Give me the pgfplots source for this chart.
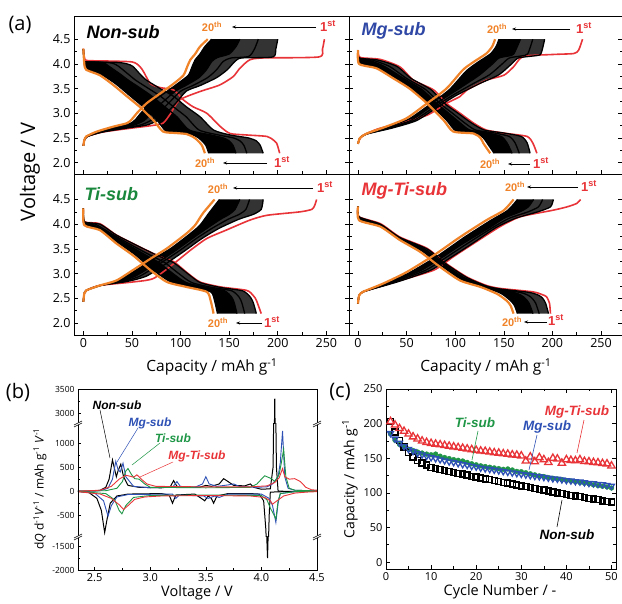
\documentclass[border=0pt]{standalone}
\usepackage{fontspec}
\setmainfont{Open Sans}
\newfontfamily\lab{Liberation Sans}
\usepackage{pgfplots}
\pgfplotsset{compat=1.18}
\usepackage{pgfplotstable}
\usepgfplotslibrary{fillbetween}
\usetikzlibrary{arrows.meta}
\definecolor{myred}{RGB}{232,52,56}
\definecolor{myorange}{RGB}{240,130,40}
\definecolor{myblue}{RGB}{48,72,165}
\definecolor{mygreen}{RGB}{25,135,60}
\definecolor{bblue}{RGB}{45,80,180}
\definecolor{bgreen}{RGB}{30,150,70}
\newcommand{\fs}[1]{\fontsize{#1}{#1}\selectfont}

\pgfplotsset{
 every axis/.append style={/pgf/number format/assume math mode=true},
 apan/.style={set layers, scale only axis, clip=true, xtick={0,50,...,250}, minor x tick num=1,
   ytick={2,2.5,...,4.5}, minor y tick num=1, xtick pos=bottom, tick align=inside,
   major tick length=4pt, minor tick length=2.5pt, tick style={black,line width=0.6pt},
   axis line style={line width=0.8pt}, ticklabel style={font=\fs{12.5}},
   yticklabel style={/pgf/number format/fixed, /pgf/number format/fixed zerofill, /pgf/number format/precision=1}},
 c1/.style={draw=myred, line width=1.6pt, smooth, tension=0.4},
 cb/.style={draw=black, line width=1.3pt, smooth, tension=0.4},
 c20/.style={draw=myorange, line width=2.2pt, smooth, tension=0.4},
 fan/.style={fill=black!80, draw=none},
 core/.style={fill=black, draw=none},
 bpan/.style={scale only axis, clip=true, width=239pt, xmin=2.35, xmax=4.5,
   axis line style={draw=none}, ytick pos=left, tick align=inside,
   major tick length=3pt, minor tick length=2pt, minor y tick num=1,
   tick style={black,line width=0.5pt},
   yticklabel style={font=\fs{8.5}, /pgf/number format/set thousands separator={}}},
 bk/.style={draw=black, line width=1pt},
 bb/.style={draw=bblue, line width=0.9pt},
 bg/.style={draw=bgreen, line width=0.9pt},
 br/.style={draw=myred, line width=0.9pt},
}

% ---------- panel (b) data ----------
\pgfplotstableread[row sep=\\]{x y\\
2.35 0\\ 2.5 5\\ 2.55 20\\ 2.6 80\\ 2.63 250\\ 2.66 650\\ 2.68 450\\ 2.695 300\\ 2.71 420\\ 2.735 560\\ 2.76 300\\ 2.8 120\\ 2.9 80\\ 3.1 70\\ 3.18 90\\ 3.21 220\\ 3.24 100\\ 3.3 80\\ 3.45 85\\ 3.5 120\\ 3.55 100\\ 3.62 150\\ 3.66 260\\ 3.7 200\\ 3.75 120\\ 3.85 110\\ 3.9 150\\ 3.93 80\\ 4.0 40\\ 4.08 50\\ 4.105 500\\ 4.12 3300\\ 4.135 500\\ 4.15 0\\ 4.3 -5\\ 4.5 0\\
}\bKc
\pgfplotstableread[row sep=\\]{x y\\
2.35 -5\\ 2.45 -30\\ 2.52 -150\\ 2.56 -400\\ 2.59 -860\\ 2.61 -600\\ 2.64 -250\\ 2.7 -100\\ 2.8 -60\\ 3.1 -50\\ 3.17 -80\\ 3.2 -250\\ 3.23 -80\\ 3.4 -60\\ 3.46 -150\\ 3.49 -200\\ 3.52 -100\\ 3.55 -150\\ 3.57 -250\\ 3.6 -100\\ 3.7 -50\\ 3.9 -50\\ 3.98 -60\\ 4.02 -200\\ 4.04 -800\\ 4.055 -1750\\ 4.07 -500\\ 4.08 -20\\ 4.2 -10\\ 4.5 -5\\
}\bKd
\pgfplotstableread[row sep=\\]{x y\\
2.35 0\\ 2.55 10\\ 2.62 60\\ 2.66 250\\ 2.69 620\\ 2.71 450\\ 2.73 400\\ 2.755 580\\ 2.78 300\\ 2.85 100\\ 3.0 70\\ 3.2 80\\ 3.24 200\\ 3.27 100\\ 3.4 80\\ 3.47 150\\ 3.5 300\\ 3.53 150\\ 3.6 100\\ 3.7 130\\ 3.75 150\\ 3.8 100\\ 3.95 80\\ 4.05 90\\ 4.1 150\\ 4.15 300\\ 4.17 600\\ 4.19 1250\\ 4.21 300\\ 4.24 60\\ 4.3 20\\ 4.5 5\\
}\bBc
\pgfplotstableread[row sep=\\]{x y\\
2.35 -5\\ 2.5 -40\\ 2.58 -200\\ 2.62 -520\\ 2.65 -300\\ 2.7 -120\\ 2.8 -70\\ 3.2 -60\\ 3.23 -150\\ 3.26 -80\\ 3.48 -100\\ 3.52 -150\\ 3.58 -100\\ 3.62 -130\\ 3.7 -60\\ 4.0 -60\\ 4.07 -150\\ 4.1 -300\\ 4.13 -650\\ 4.15 -250\\ 4.17 -50\\ 4.3 -10\\ 4.5 -5\\
}\bBd
\pgfplotstableread[row sep=\\]{x y\\
2.35 0\\ 2.6 10\\ 2.7 60\\ 2.75 200\\ 2.78 420\\ 2.8 470\\ 2.83 350\\ 2.86 260\\ 2.9 250\\ 2.95 150\\ 3.0 80\\ 3.5 70\\ 3.9 80\\ 3.96 150\\ 4.0 250\\ 4.03 320\\ 4.06 290\\ 4.09 260\\ 4.12 200\\ 4.16 350\\ 4.18 600\\ 4.2 870\\ 4.22 300\\ 4.25 60\\ 4.3 20\\ 4.5 5\\
}\bGc
\pgfplotstableread[row sep=\\]{x y\\
2.35 -5\\ 2.6 -50\\ 2.68 -180\\ 2.72 -400\\ 2.745 -470\\ 2.78 -300\\ 2.85 -130\\ 3.0 -90\\ 3.5 -80\\ 4.0 -90\\ 4.05 -180\\ 4.08 -350\\ 4.11 -480\\ 4.13 -580\\ 4.15 -200\\ 4.17 -50\\ 4.3 -10\\ 4.5 -5\\
}\bGd
\pgfplotstableread[row sep=\\]{x y\\
2.35 0\\ 2.55 20\\ 2.65 100\\ 2.72 250\\ 2.78 330\\ 2.82 310\\ 2.85 290\\ 2.88 340\\ 2.92 250\\ 2.97 150\\ 3.05 100\\ 3.5 90\\ 3.9 90\\ 4.05 110\\ 4.12 180\\ 4.16 280\\ 4.19 470\\ 4.21 300\\ 4.25 250\\ 4.3 260\\ 4.35 200\\ 4.4 80\\ 4.45 30\\ 4.5 20\\
}\bRc
\pgfplotstableread[row sep=\\]{x y\\
2.35 -10\\ 2.55 -60\\ 2.65 -150\\ 2.72 -280\\ 2.76 -380\\ 2.8 -300\\ 2.86 -170\\ 2.95 -120\\ 3.1 -100\\ 3.5 -90\\ 3.9 -100\\ 4.03 -130\\ 4.08 -200\\ 4.1 -270\\ 4.14 -200\\ 4.2 -100\\ 4.3 -40\\ 4.4 -20\\ 4.5 -10\\
}\bRd

% ---------- panel (c) data ----------
\pgfplotstableread[row sep=\\]{c k b g r\\
1 203 186 185 203\\ 2 188 178 176 198\\ 3 176 172 170 193\\ 4 166 167 166 189\\ 5 158 163 163 185\\
6 152 160 161 181\\ 7 147 157 159 178\\ 8 143 155 157.5 175\\ 9 140 153 156 173\\ 10 137 151 155 171.5\\
11 135.5 149.5 156 170.5\\ 12 134 148 153 169.5\\ 13 132.5 146.5 151 168.5\\ 14 131 145 149.5 167.5\\ 15 129.5 144 148 166.5\\
16 128 142.5 147 165.5\\ 17 127 141 146 164.5\\ 18 125.5 140 144 163.5\\ 19 124 138.5 142 162.5\\ 20 123 137.5 140.5 161.5\\
21 121.5 136 139 160.5\\ 22 120 135 138 160\\ 23 119 134 137 159\\ 24 117.5 133 136 158\\ 25 116.5 132 135 157.5\\
26 115 131 134 156.5\\ 27 114 130 134.5 156\\ 28 112.5 129 133 155\\ 29 111.5 128 131 154.5\\ 30 110 127 130.5 153.5\\
31 109 126 129 146\\ 32 107.5 125 127.5 152\\ 33 106.5 124 126 145\\ 34 105 123.5 124.5 151\\ 35 104 122.5 123.5 148\\
36 102.5 121.5 122 144\\ 37 101.5 120.5 121 150\\ 38 100 120 120 149\\ 39 99 119 119 143\\ 40 97.5 118 118 148\\
41 96.5 117.5 117 147\\ 42 95.5 116.5 116 146.5\\ 43 94.5 116 115 148\\ 44 93 115 114 145.5\\ 45 92 114 113 145\\
46 91 113.5 111.5 144\\ 47 90 112.5 110.5 143.5\\ 48 88.5 112 109.5 142.5\\ 49 87.5 111 108.5 142\\ 50 86.5 110 107 139\\
}\ctab

\begin{document}
\begin{tikzpicture}[x=1pt,y=1pt]

% ===== (a) Non-sub =====
\begin{axis}[apan, at={(74pt,430pt)}, anchor=south west, width=275pt, height=158pt,
  xmin=-9.6, xmax=273.3, ymin=1.77, ymax=4.97, xticklabels={}]
\addplot[c1] coordinates {(0,2.34)(1,2.45)(4,2.53)(20,2.62)(50,2.7)(70,2.75)(82,2.8)(90,3.0)(99,3.27)(120,3.44)(140,3.57)(154,3.74)(161,3.91)(171,4.08)(185,4.12)(242,4.14)(246,4.3)(248,4.5)};
\addplot[c1] coordinates {(0,4.31)(1,4.15)(3,4.07)(20,4.06)(50,4.04)(58,3.95)(62,3.84)(69,3.6)(79,3.52)(93,3.47)(103,3.27)(113,3.13)(127,3.0)(141,2.73)(151,2.59)(168,2.56)(189,2.53)(196,2.45)(199,2.39)(202,2.19)};
\addplot[cb, name path=n2] coordinates {(0,2.34)(1,2.45)(4,2.53)(20,2.62)(45,2.7)(65,2.76)(76,2.85)(85,3.0)(95,3.2)(106,3.45)(120,3.56)(137,3.72)(148,3.88)(156,4.05)(163,4.12)(195,4.14)(198,4.3)(200,4.5)};
\addplot[cb] coordinates {(0,2.34)(1,2.45)(4,2.53)(18.5,2.62)(40.6,2.7)(58.3,2.76)(69,2.85)(77.5,3.0)(87.5,3.2)(100.3,3.45)(112.5,3.56)(127.7,3.72)(137,3.88)(143.9,4.05)(152,4.12)(170,4.15)(176,4.3)(180,4.5)};
\addplot[cb, name path=nA] coordinates {(0,2.34)(1,2.45)(4,2.53)(17.2,2.62)(36.5,2.7)(51.9,2.76)(62.3,2.85)(70.2,3.0)(80.2,3.2)(94.9,3.45)(105.2,3.56)(118.8,3.72)(126.6,3.88)(132.2,4.05)(138,4.13)(150,4.2)(157,4.35)(161,4.5)};
\addplot[cb, name path=nB] coordinates {(0,2.34)(1,2.45)(3,2.53)(15,2.62)(33,2.72)(48,2.79)(54,2.88)(59,3.0)(69,3.2)(83,3.4)(97,3.6)(108,3.77)(112,3.95)(115,4.08)(120,4.2)(125,4.35)(132,4.5)};
\addplot[fan] fill between[of=n2 and nA];
\addplot[core] fill between[of=nA and nB];
\addplot[cb, name path=n2d] coordinates {(0,4.3)(1,4.06)(5,4.04)(35,4.03)(45,4.0)(51,3.95)(58,3.8)(65,3.67)(79,3.5)(93,3.34)(106,3.13)(120,2.93)(134,2.66)(151,2.56)(170,2.5)(178,2.44)(182,2.35)(185,2.19)};
\addplot[cb] coordinates {(0,4.3)(1,4.05)(3.8,4.04)(24.8,4.03)(31.8,4.0)(36.3,3.95)(45.7,3.8)(53.8,3.67)(67.2,3.5)(79.7,3.34)(92.7,3.13)(105.7,2.93)(119.1,2.66)(139.2,2.56)(154.5,2.5)(161.2,2.44)(165.2,2.35)(168.2,2.19)};
\addplot[cb, name path=nC] coordinates {(0,4.3)(1,4.04)(3,4.04)(18,4.03)(23,4.0)(26.5,3.95)(37.5,3.8)(46.3,3.67)(59.3,3.5)(70.9,3.34)(83.8,3.13)(96.2,2.93)(109.1,2.66)(131.3,2.56)(144.2,2.5)(150,2.44)(154,2.35)(157,2.19)};
\addplot[cb, name path=nD] coordinates {(0,4.3)(1,4.0)(3,3.9)(18,3.79)(33,3.6)(47,3.37)(61,3.14)(75,2.88)(85,2.64)(98,2.6)(110,2.58)(117,2.52)(121,2.46)(126,2.35)(129,2.19)};
\addplot[fan] fill between[of=n2d and nC];
\addplot[core] fill between[of=nC and nD];
\addplot[c20] coordinates {(0,2.34)(1,2.45)(3,2.53)(14,2.63)(31,2.73)(45,2.8)(50,2.88)(55,3.0)(65,3.2)(79,3.4)(93,3.6)(103,3.77)(107,3.95)(110,4.08)(115,4.2)(120,4.35)(128,4.5)};
\addplot[c20] coordinates {(0,4.31)(1,4.0)(3,3.88)(17,3.77)(31,3.57)(45,3.34)(58,3.13)(72,2.86)(82,2.63)(95,2.6)(106,2.58)(113,2.52)(117,2.46)(122,2.35)(125,2.19)};
\end{axis}

% ===== (a) Mg-sub =====
\begin{axis}[apan, at={(349pt,430pt)}, anchor=south west, width=273pt, height=158pt,
  xmin=-9.3, xmax=271.6, ymin=1.77, ymax=4.97, xticklabels={}, yticklabels={}]
\addplot[c1] coordinates {(0,2.38)(1,2.45)(5,2.55)(20,2.68)(43,2.8)(71,2.96)(91,3.2)(105,3.34)(112,3.47)(132,3.67)(150,3.77)(160,3.94)(170,4.15)(200,4.19)(222,4.21)(227,4.28)(231,4.5)};
\addplot[c1] coordinates {(0,4.28)(1,4.15)(5,4.12)(23,4.09)(43,3.94)(57,3.67)(78,3.47)(91,3.2)(105,3.0)(119,2.8)(132,2.66)(153,2.59)(174,2.53)(180,2.39)(184,2.19)};
\addplot[cb, name path=m2] coordinates {(0,2.38)(2,2.5)(9,2.58)(35,2.7)(60,2.85)(80,3.1)(100,3.35)(125,3.6)(145,3.78)(158,4.0)(165,4.12)(180,4.16)(188,4.2)(192,4.5)};
\addplot[cb] coordinates {(0,2.38)(2,2.5)(8.8,2.58)(32.9,2.7)(57,2.85)(76.4,3.1)(96.2,3.35)(118.5,3.6)(135.3,3.78)(148.4,4.0)(155.7,4.12)(167.8,4.16)(174.5,4.2)(179.8,4.5)};
\addplot[cb, name path=mA] coordinates {(0,2.38)(2,2.5)(8.6,2.58)(29.1,2.7)(53.8,2.85)(72.6,3.1)(92.2,3.35)(111.8,3.6)(125.3,3.78)(138.4,4.0)(145.1,4.12)(154.9,4.16)(160.2,4.2)(167.1,4.5)};
\addplot[cb, name path=mB] coordinates {(0,2.38)(2,2.5)(9,2.59)(30,2.72)(52,2.88)(74,3.18)(94,3.48)(111,3.85)(123,4.03)(136,4.2)(142,4.35)(145,4.5)};
\addplot[fan] fill between[of=m2 and mA];
\addplot[core] fill between[of=mA and mB];
\addplot[cb, name path=m2d] coordinates {(0,4.28)(1,4.12)(20,4.08)(40,3.95)(55,3.7)(75,3.48)(89,3.2)(103,3.0)(117,2.8)(130,2.66)(150,2.6)(168,2.53)(174,2.4)(177,2.19)};
\addplot[cb] coordinates {(0,4.28)(1,4.12)(14.2,4.08)(32.2,3.95)(50.4,3.7)(69.5,3.48)(84.2,3.2)(97.2,3.0)(110,2.8)(121,2.66)(140.3,2.6)(155.6,2.53)(161.6,2.4)(165.9,2.19)};
\addplot[cb, name path=mC] coordinates {(0,4.28)(1,4.1)(10.4,4.08)(27,3.95)(47.4,3.7)(65.9,3.48)(81,3.2)(93.3,3.0)(105.4,2.8)(115,2.66)(133.9,2.6)(147.4,2.53)(153.3,2.4)(158.5,2.19)};
\addplot[cb, name path=mD] coordinates {(0,4.28)(1,4.02)(20,3.92)(38,3.72)(55,3.5)(73,3.2)(91,2.86)(101,2.64)(122,2.59)(129,2.5)(133,2.39)(140,2.19)};
\addplot[fan] fill between[of=m2d and mC];
\addplot[core] fill between[of=mC and mD];
\addplot[c20] coordinates {(0,2.38)(2,2.5)(9,2.59)(29,2.73)(50,2.9)(71,3.2)(91,3.5)(108,3.88)(119,4.04)(132,4.21)(138,4.35)(141,4.5)};
\addplot[c20] coordinates {(0,4.28)(1,4.0)(19,3.91)(36,3.71)(53,3.5)(71,3.2)(88,2.86)(98,2.63)(119,2.59)(126,2.5)(129,2.39)(136,2.19)};
\end{axis}

% ===== (a) Ti-sub =====
\begin{axis}[apan, at={(74pt,269pt)}, anchor=south west, width=275pt, height=161pt,
  xmin=-9.6, xmax=273.3, ymin=1.757, ymax=5.016]
\addplot[c1] coordinates {(0,2.43)(1,2.6)(3,2.66)(17,2.76)(51,2.83)(72,2.9)(93,3.2)(110,3.47)(127,3.71)(147,3.88)(171,4.08)(189,4.18)(223,4.25)(235,4.3)(238,4.38)(240,4.5)};
\addplot[c1] coordinates {(0,4.32)(1,4.05)(17,4.01)(34,3.78)(58,3.54)(79,3.34)(93,3.24)(106,3.03)(120,2.83)(141,2.73)(168,2.66)(175,2.55)(178,2.46)(183,2.19)};
\addplot[cb, name path=t2] coordinates {(0,2.43)(1,2.6)(3,2.66)(17,2.76)(45,2.84)(65,2.95)(85,3.2)(105,3.47)(122,3.71)(140,3.92)(160,4.1)(175,4.2)(183,4.3)(185,4.5)};
\addplot[cb] coordinates {(0,2.43)(1,2.6)(3,2.66)(17.3,2.76)(41.1,2.84)(58.4,2.95)(78.6,3.2)(99.3,3.47)(116.2,3.71)(132.7,3.92)(149,4.1)(160.5,4.2)(167.2,4.3)(171,4.5)};
\addplot[cb, name path=tA] coordinates {(0,2.43)(1,2.6)(3,2.66)(17.5,2.76)(38.3,2.84)(53.7,2.95)(74.5,3.2)(95.2,3.47)(112.1,3.71)(127.5,3.92)(141.2,4.1)(150.2,4.2)(156,4.3)(161,4.5)};
\addplot[cb, name path=tB] coordinates {(0,2.43)(1,2.6)(3,2.66)(18,2.76)(36,2.86)(54,3.07)(72,3.3)(90,3.51)(110,3.81)(120,3.98)(129,4.22)(140,4.5)};
\addplot[fan] fill between[of=t2 and tA];
\addplot[core] fill between[of=tA and tB];
\addplot[cb, name path=t2d] coordinates {(0,4.32)(1,4.05)(17,4.0)(34,3.78)(58,3.54)(79,3.34)(93,3.22)(106,3.02)(120,2.82)(141,2.72)(164,2.65)(172,2.52)(175,2.4)(178,2.19)};
\addplot[cb] coordinates {(0,4.32)(1,4.04)(12.2,4.0)(31.3,3.78)(53,3.54)(72,3.34)(84,3.22)(96.9,3.02)(111.3,2.82)(132.3,2.72)(152.8,2.65)(160.4,2.52)(163.2,2.4)(166,2.19)};
\addplot[cb, name path=tC] coordinates {(0,4.32)(1,4.03)(9,4.0)(29.5,3.78)(49.7,3.54)(67.4,3.34)(78,3.22)(90.9,3.02)(105.6,2.82)(126.6,2.72)(145.4,2.65)(152.7,2.52)(155.4,2.4)(158,2.19)};
\addplot[cb, name path=tD] coordinates {(0,4.32)(1,3.99)(18,3.89)(36,3.62)(54,3.37)(72,3.07)(90,2.83)(110,2.73)(131,2.63)(135,2.45)(138,2.19)};
\addplot[fan] fill between[of=t2d and tC];
\addplot[core] fill between[of=tC and tD];
\addplot[c20] coordinates {(0,2.43)(1,2.6)(3,2.66)(17,2.76)(34,2.86)(51,3.07)(69,3.3)(86,3.51)(106,3.81)(115,3.98)(123,4.22)(135,4.5)};
\addplot[c20] coordinates {(0,4.32)(1,3.98)(17,3.88)(34,3.61)(51,3.37)(69,3.07)(86,2.83)(106,2.73)(127,2.63)(131,2.45)(134,2.19)};
\end{axis}

% ===== (a) Mg-Ti-sub =====
\begin{axis}[apan, at={(349pt,269pt)}, anchor=south west, width=273pt, height=161pt,
  xmin=-9.3, xmax=271.6, ymin=1.757, ymax=5.016, yticklabels={}]
\addplot[c1] coordinates {(0,2.39)(1,2.55)(5,2.63)(26,2.76)(43,2.86)(78,3.07)(98,3.34)(119,3.61)(146,3.95)(167,4.15)(200,4.28)(215,4.35)(225,4.42)(229,4.5)};
\addplot[c1] coordinates {(0,4.36)(1,4.15)(23,4.01)(43,3.74)(71,3.51)(91,3.2)(112,2.93)(132,2.76)(146,2.7)(180,2.63)(190,2.57)(194,2.53)(197,2.4)(198,2.19)};
\addplot[cb, name path=x2] coordinates {(0,2.39)(1,2.55)(5,2.63)(28,2.76)(45,2.86)(75,3.07)(95,3.32)(117,3.6)(142,3.93)(162,4.12)(185,4.25)(198,4.35)(201,4.5)};
\addplot[cb] coordinates {(0,2.39)(1,2.55)(5,2.63)(26.5,2.76)(41.9,2.86)(69.7,3.07)(90.1,3.32)(111.8,3.6)(138.4,3.93)(155.6,4.12)(175,4.25)(185.6,4.35)(189.9,4.5)};
\addplot[cb, name path=xA] coordinates {(0,2.39)(1,2.55)(5,2.63)(25.4,2.76)(39.4,2.86)(65.3,3.07)(86,3.32)(107.4,3.6)(135.3,3.93)(150.2,4.12)(166.5,4.25)(175.2,4.35)(180.6,4.5)};
\addplot[cb, name path=xB] coordinates {(0,2.39)(1,2.55)(5,2.63)(27,2.79)(53,3.02)(82,3.36)(109,3.73)(136,4.07)(154,4.28)(164,4.5)};
\addplot[fan] fill between[of=x2 and xA];
\addplot[core] fill between[of=xA and xB];
\addplot[cb, name path=x2d] coordinates {(0,4.36)(1,4.15)(23,4.0)(43,3.73)(71,3.5)(91,3.19)(112,2.92)(132,2.75)(146,2.69)(176,2.62)(186,2.56)(190,2.5)(193,2.4)(196,2.19)};
\addplot[cb] coordinates {(0,4.36)(1,4.13)(20.7,4.0)(42.4,3.73)(68.2,3.5)(88.8,3.19)(109,2.92)(130.2,2.75)(142.6,2.69)(166.5,2.62)(175.1,2.56)(179.1,2.5)(182.8,2.4)(186.4,2.19)};
\addplot[cb, name path=xC] coordinates {(0,4.36)(1,4.12)(19.1,4.0)(42,3.73)(66.3,3.5)(87.4,3.19)(107,2.92)(129,2.75)(140.3,2.69)(160.1,2.62)(167.9,2.56)(171.9,2.5)(176,2.4)(180,2.19)};
\addplot[cb, name path=xD] coordinates {(0,4.36)(1,4.08)(24,3.95)(45,3.68)(67,3.44)(87,3.14)(108,2.86)(129,2.73)(147,2.6)(157,2.45)(161,2.35)(164,2.19)};
\addplot[fan] fill between[of=x2d and xC];
\addplot[core] fill between[of=xC and xD];
\addplot[c20] coordinates {(0,2.39)(1,2.55)(5,2.63)(26,2.8)(50,3.03)(78,3.37)(105,3.74)(132,4.08)(150,4.28)(160,4.5)};
\addplot[c20] coordinates {(0,4.36)(1,4.08)(23,3.95)(43,3.68)(64,3.44)(84,3.14)(105,2.86)(126,2.73)(143,2.59)(153,2.45)(157,2.35)(160,2.19)};
\end{axis}

% (a) annotations
\node[font=\fs{20}] at (20,579) {(a)};
\node[rotate=90, font=\fs{20}] at (30,432) {Voltage / V};
\node[font=\fs{15.5}] at (212,237) {Capacity / mAh g\textsuperscript{-1}};
\node[font=\fs{15.5}] at (486,237) {Capacity / mAh g\textsuperscript{-1}};
\node[anchor=west, font=\lab\bfseries\itshape\fs{18}] at (83,572) {Non-sub};
\node[anchor=west, text=myblue, font=\lab\bfseries\itshape\fs{18}] at (358,573) {Mg-sub};
\node[anchor=west, text=mygreen, font=\lab\bfseries\itshape\fs{18}] at (81,410) {Ti-sub};
\node[anchor=west, text=myred, font=\lab\bfseries\itshape\fs{18}] at (358,413) {Mg-Ti-sub};
\tikzset{ann/.style={-{Stealth[length=4pt,width=3pt]}, line width=0.6pt},
  tw/.style={text=myorange, font=\lab\bfseries\fs{11}},
  ts/.style={text=myred, font=\lab\bfseries\fs{13}}}
% Non-sub
\node[tw] at (212,577) {20\textsuperscript{th}}; \draw[ann] (316,577) -- (232,577); \node[ts] at (328,578) {1\textsuperscript{st}};
\node[tw] at (205,441) {20\textsuperscript{th}}; \draw[ann] (267,441) -- (223,441); \node[ts] at (282,442) {1\textsuperscript{st}};
% Mg-sub
\node[tw] at (497,575) {20\textsuperscript{th}}; \draw[ann] (570,575) -- (512,575); \node[ts] at (584,576) {1\textsuperscript{st}};
\node[tw] at (490,440) {20\textsuperscript{th}}; \draw[ann] (530,440) -- (508,440); \node[ts] at (541,441) {1\textsuperscript{st}};
% Ti-sub
\node[tw] at (218,415) {20\textsuperscript{th}}; \draw[ann] (313,416) -- (233,416); \node[ts] at (325,417) {1\textsuperscript{st}};
\node[tw] at (218,281) {20\textsuperscript{th}}; \draw[ann] (262,281) -- (236,281); \node[ts] at (272,282) {1\textsuperscript{st}};
% Mg-Ti-sub
\node[tw] at (515,417) {20\textsuperscript{th}}; \draw[ann] (578,417) -- (527,417); \node[ts] at (589,418) {1\textsuperscript{st}};
\node[tw] at (512,282) {20\textsuperscript{th}}; \draw[ann] (547,282) -- (524,282); \node[ts] at (556,284) {1\textsuperscript{st}};

% ===== (b) broken axis =====
\begin{axis}[bpan, at={(78pt,180pt)}, anchor=south west, height=35pt, ymin=2770, ymax=3500,
  ytick={3000,3500}, xtick=\empty]
\addplot[bk] table {\bKc};
\end{axis}
\begin{axis}[bpan, at={(78pt,67pt)}, anchor=south west, height=113pt, ymin=-952, ymax=1396,
  ytick={-500,0,500,1000}, xtick=\empty]
\addplot[bk] table {\bKc}; \addplot[bk] table {\bKd};
\addplot[bb] table {\bBc}; \addplot[bb] table {\bBd};
\addplot[bg] table {\bGc}; \addplot[bg] table {\bGd};
\addplot[br] table {\bRc}; \addplot[br] table {\bRd};
\end{axis}
\begin{axis}[bpan, at={(78pt,34pt)}, anchor=south west, height=33pt, ymin=-2000, ymax=-1312,
  ytick={-2000,-1500}, xtick={2.5,3,...,4.5}, minor x tick num=1, xtick pos=bottom,
  xticklabel style={font=\fs{11}, /pgf/number format/fixed, /pgf/number format/fixed zerofill, /pgf/number format/precision=1}]
\addplot[bk] table {\bKd};
\end{axis}
\draw[line width=0.8pt] (78,34) rectangle (317,215);
\foreach \yy in {180,67} \foreach \xx in {78,317} {
  \fill[white] (\xx-4,\yy-3) -- (\xx+4,\yy+1) -- (\xx+4,\yy+3) -- (\xx-4,\yy-1) -- cycle;
  \draw[line width=0.6pt] (\xx-4,\yy-3) -- (\xx+4,\yy+1) (\xx-4,\yy-1) -- (\xx+4,\yy+3);
}
\node[font=\fs{20}] at (18,212) {(b)};
\node[rotate=90, font=\fs{12}] at (40,115) {d\textit{Q} d\textsuperscript{-1}\textit{V}\textsuperscript{-1} / mAh g\textsuperscript{-1} \textit{V}\textsuperscript{-1}};
\node[font=\fs{14.5}] at (197,11) {Voltage / V};
\tikzset{bl/.style={font=\lab\bfseries\itshape\fs{12}}}
\node[bl] at (117,199) {Non-sub}; \draw[line width=0.5pt] (100,194) -- (110,146);
\node[bl, text=bblue] at (150,181) {Mg-sub}; \draw[bblue, line width=0.5pt] (138,176) -- (117,142);
\node[bl, text=bgreen] at (173,166) {Ti-sub}; \draw[bgreen, line width=0.5pt] (160,161) -- (132,139);
\node[bl, text=myred] at (197,148) {Mg-Ti-sub}; \draw[myred, line width=0.5pt] (173,142) -- (140,127);

% ===== (c) =====
\begin{axis}[scale only axis, at={(386pt,35pt)}, anchor=south west, width=230pt, height=180pt,
  xmin=0, xmax=51, ymin=-10, ymax=250, xtick={0,10,...,50}, ytick={0,50,...,250},
  minor x tick num=1, minor y tick num=1, tick align=inside, major tick length=4pt,
  minor tick length=2.5pt, tick style={black,line width=0.6pt}, axis line style={line width=0.8pt},
  ticklabel style={font=\fs{11}}]
\addplot[only marks, mark=*, mark size=2.4pt, mark options={fill=bgreen, draw=bgreen}] table[x=c,y=g] {\ctab};
\addplot[only marks, mark=square, mark size=3pt, mark options={line width=1.4pt, draw=black, fill=white}] table[x=c,y=k] {\ctab};
\addplot[only marks, mark=triangle, mark size=3.4pt, mark options={rotate=180, line width=1.3pt, draw=bblue, fill=white}] table[x=c,y=b] {\ctab};
\addplot[only marks, mark=triangle, mark size=4.2pt, mark options={line width=1.3pt, draw=myred, fill=white}] table[x=c,y=r] {\ctab};
\end{axis}
\node[font=\fs{20}] at (340,212) {(c)};
\node[rotate=90, font=\fs{14}] at (350,125) {Capacity / mAh g\textsuperscript{-1}};
\node[font=\fs{14.5}] at (500,12) {Cycle Number / -};
\tikzset{cl/.style={font=\lab\bfseries\itshape\fs{13.5}}}
\node[cl, text=myred] at (577,192) {Mg-Ti-sub}; \draw[myred, line width=0.6pt] (584,184) -- (577,151);
\node[cl, text=bblue] at (547,177) {Mg-sub}; \draw[bblue, line width=0.6pt] (537,169) -- (529,134);
\node[cl, text=bgreen] at (475,181) {Ti-sub}; \draw[bgreen, line width=0.6pt] (478,173) -- (472,144);
\node[cl] at (567,69) {Non-sub}; \draw[line width=0.6pt] (557,77) -- (562,104);

\pgfresetboundingbox
\path[use as bounding box] (0,0) rectangle (622,604);
\end{tikzpicture}
\end{document}
